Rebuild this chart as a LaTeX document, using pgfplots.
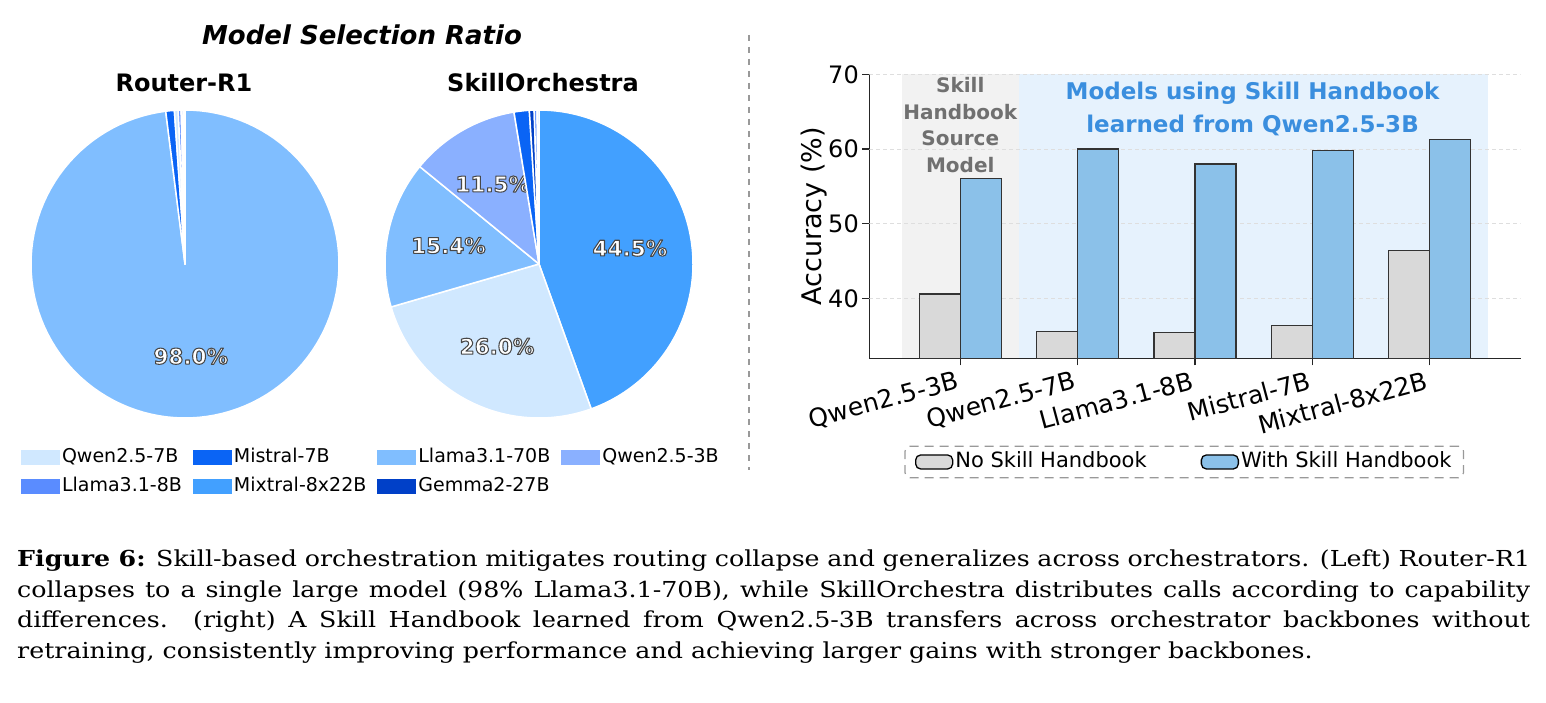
\documentclass[border=0pt]{standalone}
\usepackage{fontspec}
\setmainfont{DejaVu Sans}
\newfontfamily\capfont[FakeStretch=1.15]{DejaVu Serif}
\usepackage{pgfplots}
\pgfplotsset{compat=1.18}

\definecolor{cQ7}{HTML}{D0E8FF}
\definecolor{cMi}{HTML}{0A64F5}
\definecolor{cL70}{HTML}{80BEFF}
\definecolor{cQ3}{HTML}{8AB0FF}
\definecolor{cL8}{HTML}{5A8CFF}
\definecolor{cMx}{HTML}{42A0FF}
\definecolor{cGe}{HTML}{0040C8}
\definecolor{barGray}{HTML}{D9D9D9}
\definecolor{barBlue}{HTML}{8BC1E9}
\definecolor{bgGray}{HTML}{F2F2F2}
\definecolor{bgBlue}{HTML}{E6F2FD}
\definecolor{txtBlue}{HTML}{3A8EDE}
\definecolor{txtGray}{HTML}{707070}

\tikzset{pielabel/.style={font=\fontsize{21.5}{25}\selectfont\bfseries, inner sep=0pt}}
% white text with a dark outline (fill + stroke text rendering mode)
\newcommand\pielab[1]{\textcolor{white}{\special{pdf:literal direct 0.28 0.28 0.28 RG 1.05 w 1 j 2 Tr}#1\special{pdf:literal direct 0 Tr}}}

\gdef\curang{90}
% #1 = percentage, #2 = colour, #3 = label text (may be empty)
\newcommand\pieslice[3]{%
  \pgfmathsetmacro\angA{\curang}%
  \pgfmathsetmacro\angB{\curang-3.6*#1}%
  \pgfmathsetmacro\angM{(\angA+\angB)/2}%
  \pgfmathsetmacro\lx{0.6*cos(\angM)}%
  \pgfmathsetmacro\ly{0.6*sin(\angM)}%
  \edef\doslice{\noexpand\addplot[fill=#2,draw=white,line width=1.5pt,line join=round,domain=\angB:\angA,samples=120,forget plot] ({cos(x)},{sin(x)}) -- (axis cs:0,0) -- cycle;}%
  \doslice
  \if\relax\detokenize{#3}\relax\else
    \edef\dolabel{\noexpand\node[pielabel] at (axis cs:\lx,\ly) {\noexpand\pielab{\unexpanded{#3}}};}%
    \dolabel
  \fi
  \xdef\curang{\angB}%
}

\begin{document}
\begin{tikzpicture}
\path[use as bounding box] (0,0) rectangle (1546pt,-703pt);

% titles
\node[font=\fontsize{26}{31}\selectfont\bfseries\itshape] at (362pt,-35pt) {Model Selection Ratio};
\node[font=\fontsize{24}{29}\selectfont\bfseries] at (184pt,-83pt) {Router-R1};
\node[font=\fontsize{24}{29}\selectfont\bfseries] at (543pt,-83pt) {SkillOrchestra};

% ---------- Router-R1 pie ----------
\begin{axis}[at={(31pt,-418pt)}, anchor=south west, scale only axis,
  width=308pt, height=308pt, xmin=-1, xmax=1, ymin=-1, ymax=1,
  hide axis, clip=false,
  legend columns=4, legend cell align=left,
  legend image code/.code={\fill[#1] (0pt,-7.5pt) rectangle (39pt,7.5pt);},
  legend style={at={(axis description cs:-0.033,-0.093)}, anchor=north west,
    draw=none, fill=none, font=\fontsize{19}{23}\selectfont,
    /tikz/every even column/.append style={column sep=9pt},
    row sep=8pt, inner sep=0pt,
    nodes={inner xsep=2pt, inner ysep=1.5pt, text height=14pt, text depth=4pt}}]
\gdef\curang{90}
\pieslice{98.0}{cL70}{98.0\%}
\pieslice{0.9}{cMi}{}
\pieslice{0.4}{cQ7}{}
\pieslice{0.3}{cL8}{}
\pieslice{0.2}{cQ3}{}
\pieslice{0.1}{cGe}{}
\pieslice{0.1}{cMx}{}
\addlegendimage{fill=cQ7, draw=none}\addlegendentry{Qwen2.5-7B}
\addlegendimage{fill=cMi, draw=none}\addlegendentry{Mistral-7B}
\addlegendimage{fill=cL70, draw=none}\addlegendentry{Llama3.1-70B}
\addlegendimage{fill=cQ3, draw=none}\addlegendentry{Qwen2.5-3B}
\addlegendimage{fill=cL8, draw=none}\addlegendentry{Llama3.1-8B}
\addlegendimage{fill=cMx, draw=none}\addlegendentry{Mixtral-8x22B}
\addlegendimage{fill=cGe, draw=none}\addlegendentry{Gemma2-27B}
\end{axis}

% ---------- SkillOrchestra pie ----------
\begin{axis}[at={(385pt,-418pt)}, anchor=south west, scale only axis,
  width=308pt, height=308pt, xmin=-1, xmax=1, ymin=-1, ymax=1,
  hide axis, clip=false]
\gdef\curang{90}
\pieslice{44.5}{cMx}{44.5\%}
\pieslice{26.0}{cQ7}{26.0\%}
\pieslice{15.4}{cL70}{15.4\%}
\pieslice{11.5}{cQ3}{11.5\%}
\pieslice{1.6}{cMi}{}
\pieslice{0.5}{cGe}{}
\pieslice{0.3}{cL8}{}
\pieslice{0.2}{cQ7}{}
\end{axis}

% separator
\draw[black!40, line width=1.2pt, dash pattern=on 6pt off 6pt] (749pt,-35pt) -- (749pt,-470pt);

% ---------- bar chart ----------
\begin{axis}[at={(869.3pt,-358.3pt)}, anchor=south west, scale only axis,
  width=651.4pt, height=284pt,
  xmin=-0.775, xmax=4.775, ymin=32, ymax=70,
  axis x line*=bottom, axis y line*=left,
  axis line style={line width=1.3pt, black!85},
  xtick={0,1,2,3,4},
  xticklabels={Qwen2.5-3B,Qwen2.5-7B,Llama3.1-8B,Mistral-7B,Mixtral-8x22B},
  ytick={40,50,60,70},
  tick align=outside, major tick length=7pt,
  tick style={line width=1.2pt, black!85},
  xticklabel style={font=\fontsize{25}{30}\selectfont, xshift=-5pt, yshift=-5pt, rotate=15, anchor=north east, inner sep=0pt},
  yticklabel style={font=\fontsize{24}{29}\selectfont},
  /pgf/number format/assume math mode=true,
  ylabel={Accuracy (\%)},
  ylabel style={font=\fontsize{27}{32}\selectfont},
  ylabel shift=-6pt,
  legend columns=2,
  legend image code/.code={\draw[#1, solid, draw=black, line width=1.3pt] (0pt,-7pt) rectangle (37pt,7pt);},
  legend style={at={(0.4835,-0.365)}, anchor=center,
    draw=black!40, dash pattern=on 9pt off 6pt, line width=1.2pt, rounded corners=5pt, fill=none,
    font=\fontsize{21}{25}\selectfont,
    /tikz/every even column/.append style={column sep=52pt},
    inner xsep=10pt, inner ysep=5pt,
    nodes={inner xsep=2pt, inner ysep=1pt, text height=15pt, text depth=4.5pt}}]
\addplot[fill=bgGray, draw=none, forget plot]
  coordinates {(-0.5,32) (0.5,32) (0.5,70) (-0.5,70)} -- cycle;
\addplot[fill=bgBlue, draw=none, forget plot]
  coordinates {(0.5,32) (4.5,32) (4.5,70) (0.5,70)} -- cycle;
\addplot[black!13, line width=0.8pt, dash pattern=on 4pt off 3pt, forget plot] coordinates {(-0.775,40) (4.775,40)};
\addplot[black!13, line width=0.8pt, dash pattern=on 4pt off 3pt, forget plot] coordinates {(-0.775,50) (4.775,50)};
\addplot[black!13, line width=0.8pt, dash pattern=on 4pt off 3pt, forget plot] coordinates {(-0.775,60) (4.775,60)};
\addplot[black!13, line width=0.8pt, dash pattern=on 4pt off 3pt, forget plot] coordinates {(-0.775,70) (4.775,70)};
\addplot[ybar, bar width=0.35, bar shift=-0.175, fill=barGray, draw=black!80, line width=1.2pt]
  coordinates {(0,40.6) (1,35.6) (2,35.4) (3,36.4) (4,46.4)};
\addlegendentry{No Skill Handbook}
\addplot[ybar, bar width=0.35, bar shift=0.175, fill=barBlue, draw=black!80, line width=1.2pt]
  coordinates {(0,56.1) (1,60.0) (2,58.0) (3,59.8) (4,61.3)};
\addlegendentry{With Skill Handbook}
\node[align=center, font=\fontsize{20}{26.7}\selectfont\bfseries, text=txtGray] at (axis cs:0,63.2) {Skill\\Handbook\\Source\\Model};
\node[align=center, font=\fontsize{23}{33}\selectfont\bfseries, text=txtBlue] at (axis cs:2.49,65.3) {Models using Skill Handbook\\learned from Qwen2.5-3B};
\end{axis}

% ---------- caption ----------
\node[anchor=base west, text width=1513pt, align=justify, inner sep=0pt,
  font=\capfont\fontsize{22}{30.5}\selectfont] at (17pt,-566.5pt)
{\textbf{Figure 6:} Skill-based orchestration mitigates routing collapse and generalizes across orchestrators. (Left) Router-R1\linebreak
collapses to a single large model (98\% Llama3.1-70B), while SkillOrchestra distributes calls according to capability\linebreak
differences.\ \ (right) A Skill Handbook learned from Qwen2.5-3B transfers across orchestrator backbones without\linebreak
retraining, consistently improving performance and achieving larger gains with stronger backbones.};
\end{tikzpicture}
\end{document}
